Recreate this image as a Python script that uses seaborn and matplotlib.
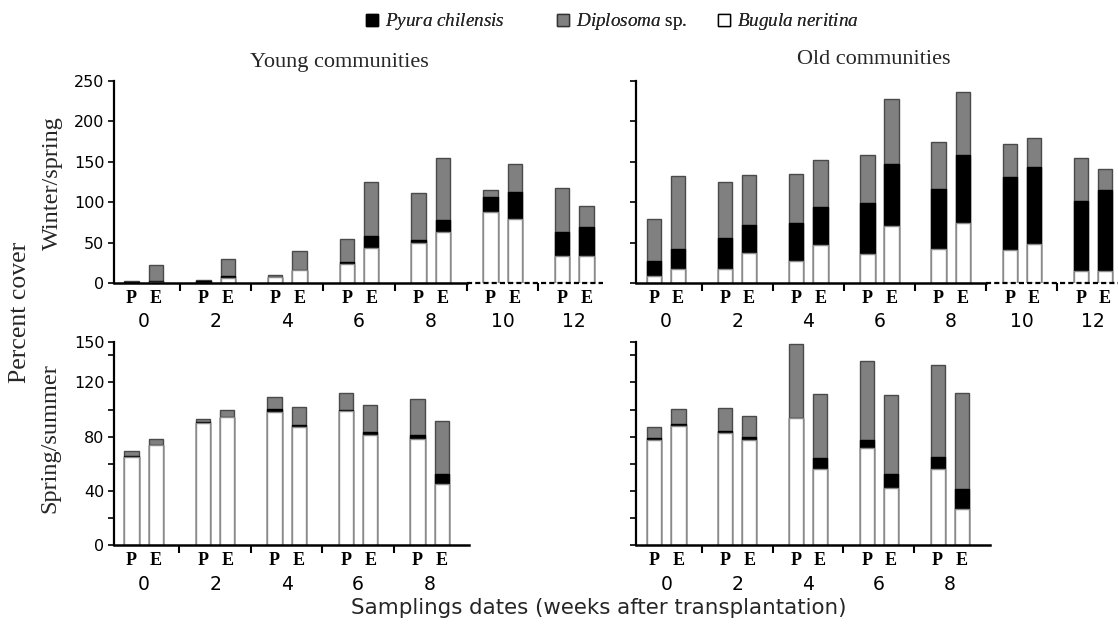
import numpy as np
import pandas as pd
import matplotlib
matplotlib.use("Agg")
import matplotlib.pyplot as plt
import seaborn as sns
from matplotlib.patches import Patch

# ---------------- data ----------------
weeks_winter = [0, 2, 4, 6, 8, 10, 12]
weeks_summer = [0, 2, 4, 6, 8]
treatments = ["P", "E"]

# Young communities - winter/spring
young_winter_P_bugula = [0, 0, 8, 23.5, 50, 87.5, 33]
young_winter_P_pyura = [1, 3, 0, 2, 3.5, 18.5, 29.5]
young_winter_P_diplosoma = [1, 0.5, 2, 29.5, 58.5, 9.5, 55.5]
young_winter_E_bugula = [1, 6, 15.5, 42.8, 63.4, 79.5, 33]
young_winter_E_pyura = [1, 3, 0, 15.7, 14.4, 33, 36.5]
young_winter_E_diplosoma = [20, 21, 23.5, 67, 77, 35, 25.5]

# Old communities - winter/spring
old_winter_P_bugula = [8.2, 17.3, 27.6, 36.2, 42.4, 41, 15]
old_winter_P_pyura = [19.4, 38.7, 46.1, 63.1, 73.6, 90, 87]
old_winter_P_diplosoma = [51.4, 68.4, 61.3, 59.7, 58.6, 41, 53]
old_winter_E_bugula = [17.3, 37, 46.5, 70.4, 74, 48.5, 15]
old_winter_E_pyura = [24.7, 35, 47.8, 76.6, 84.6, 95.5, 100]
old_winter_E_diplosoma = [90.6, 61.4, 58.5, 80.8, 77.4, 35, 26]

# Young communities - spring/summer
young_summer_P_bugula = [65, 90.3, 98.5, 98.7, 78.6]
young_summer_P_pyura = [1, 0.5, 1.7, 1.3, 2.7]
young_summer_P_diplosoma = [3.5, 2.5, 8.8, 12.2, 26.5]
young_summer_E_bugula = [73.9, 94.3, 87.4, 81.3, 44.9]
young_summer_E_pyura = [0, 0, 1, 2.4, 7.9]
young_summer_E_diplosoma = [4.4, 5.7, 13.2, 19.9, 38.8]

# Old communities - spring/summer
old_summer_P_bugula = [77.3, 83, 94, 71.9, 56]
old_summer_P_pyura = [1.5, 1.5, 0, 5.4, 9.3]
old_summer_P_diplosoma = [8.4, 16.9, 54.5, 58.7, 67.5]
old_summer_E_bugula = [87.7, 77.3, 56.2, 42.5, 26.5]
old_summer_E_pyura = [1.4, 2.7, 8.1, 10.3, 15]
old_summer_E_diplosoma = [11.3, 15.3, 47.4, 58.2, 70.5]

# ---------------- style ----------------
sns.set_theme(style="ticks")
plt.rcParams["font.family"] = ["DejaVu Sans"]
plt.rcParams["mathtext.fontset"] = "custom"
plt.rcParams["mathtext.it"] = "Liberation Serif:italic"
plt.rcParams["mathtext.rm"] = "Liberation Serif"
SERIF = "Liberation Serif"
SANS = "DejaVu Sans"

GRAY = "#808080"
BLACK = "#000000"
WHITE = "#ffffff"
OFFSET = {"P": -0.17, "E": 0.17}
BAR_W = 0.2
PAIR_GAP = 0.34

W, H = 1118, 626
fig = plt.figure(figsize=(W / 100, H / 100), dpi=100)
fig.patch.set_facecolor("white")


def px_axes(left, right, top, bottom):
    return fig.add_axes([left / W, 1 - bottom / H, (right - left) / W, (bottom - top) / H])


def draw_panel(ax, weeks, series, ylim, yticks, ylabels, xlim, dash_from=None, show_ylabels=True):
    rows = []
    for gi, wk in enumerate(weeks):
        for t in treatments:
            b = series[t][0][gi]
            p = series[t][1][gi]
            d = series[t][2][gi]
            rows.append({"pos": gi + OFFSET[t], "white": b, "black": b + p, "total": b + p + d})
    df = pd.DataFrame(rows)
    wrel = BAR_W / PAIR_GAP
    sns.barplot(data=df, x="pos", y="total", native_scale=True, color=GRAY, saturation=1,
                width=wrel, edgecolor="#4a4a4a", linewidth=1.0, errorbar=None, ax=ax)
    sns.barplot(data=df, x="pos", y="black", native_scale=True, color=BLACK, saturation=1,
                width=wrel, edgecolor="#000000", linewidth=1.0, errorbar=None, ax=ax)
    sns.barplot(data=df, x="pos", y="white", native_scale=True, color=WHITE, saturation=1,
                width=wrel, edgecolor="#8a8a8a", linewidth=1.0, errorbar=None, ax=ax)

    ax.set_xlim(*xlim)
    ax.set_ylim(*ylim)
    ax.set_xlabel("")
    ax.set_ylabel("")
    for s in ["top", "right"]:
        ax.spines[s].set_visible(False)
    ax.spines["left"].set_linewidth(1.6)
    ax.spines["left"].set_color("black")
    ax.spines["bottom"].set_linewidth(1.8)
    ax.spines["bottom"].set_color("black")
    if dash_from is not None:
        ax.spines["bottom"].set_bounds(xlim[0], dash_from)
        ax.hlines(0, dash_from, xlim[1], colors="black", linestyles=(0, (2.3, 1.4)),
                  linewidth=1.6, clip_on=False)

    ax.set_yticks(yticks)
    ax.set_yticklabels(ylabels if show_ylabels else [""] * len(yticks))
    ax.tick_params(axis="y", direction="out", length=4, width=1.2, colors="black",
                   labelsize=11.5, pad=3)

    pos = [gi + OFFSET[t] for gi in range(len(weeks)) for t in treatments]
    ax.set_xticks(pos)
    ax.set_xticklabels([t for _ in weeks for t in treatments])
    for lab in ax.get_xticklabels():
        lab.set_fontfamily(SERIF)
        lab.set_fontweight("bold")
        lab.set_fontsize(13)
    ax.tick_params(axis="x", which="major", length=0, pad=5, colors="black")
    ax.set_xticks([gi + 0.5 for gi in range(len(weeks) - 1)], minor=True)
    ax.tick_params(axis="x", which="minor", direction="out", length=6, width=1.5, colors="black")
    for gi, wk in enumerate(weeks):
        ax.annotate(str(wk), xy=(gi, 0), xycoords=("data", "axes fraction"), xytext=(0, -28),
                    textcoords="offset points", ha="center", va="center", fontsize=13.5,
                    fontfamily=SANS, color="black", annotation_clip=False)
    ax.set_facecolor("white")


def series(pb, pp, pd_, eb, ep, ed):
    return {"P": (pb, pp, pd_), "E": (eb, ep, ed)}


ax_tl = px_axes(114, 603, 81, 283)
ax_tr = px_axes(636, 1118, 81, 283)
ax_bl = px_axes(114, 469, 341.7, 545.3)
ax_br = px_axes(636, 990, 341.7, 545.3)

top_ticks = [0, 50, 100, 150, 200, 250]
top_labels = ["0", "50", "100", "150", "200", "250"]
bot_ticks = [0, 20, 40, 60, 80, 100, 120, 140, 150]
bot_labels = ["0", "", "40", "", "80", "", "120", "", "150"]

draw_panel(ax_tl, weeks_winter,
           series(young_winter_P_bugula, young_winter_P_pyura, young_winter_P_diplosoma,
                  young_winter_E_bugula, young_winter_E_pyura, young_winter_E_diplosoma),
           (0, 250), top_ticks, top_labels, (-0.415, 6.4), dash_from=4.5)
draw_panel(ax_tr, weeks_winter,
           series(old_winter_P_bugula, old_winter_P_pyura, old_winter_P_diplosoma,
                  old_winter_E_bugula, old_winter_E_pyura, old_winter_E_diplosoma),
           (0, 250), top_ticks, top_labels, (-0.42, 6.35), dash_from=4.5, show_ylabels=False)
draw_panel(ax_bl, weeks_summer,
           series(young_summer_P_bugula, young_summer_P_pyura, young_summer_P_diplosoma,
                  young_summer_E_bugula, young_summer_E_pyura, young_summer_E_diplosoma),
           (0, 150), bot_ticks, bot_labels, (-0.415, 4.55))
draw_panel(ax_br, weeks_summer,
           series(old_summer_P_bugula, old_summer_P_pyura, old_summer_P_diplosoma,
                  old_summer_E_bugula, old_summer_E_pyura, old_summer_E_diplosoma),
           (0, 150), bot_ticks, bot_labels, (-0.43, 4.57), show_ylabels=False)

# titles and labels
fig.text(339 / W, 1 - 62 / H, "Young communities", ha="center", va="center",
         fontfamily=SERIF, fontsize=16)
fig.text(874 / W, 1 - 60 / H, "Old communities", ha="center", va="center",
         fontfamily=SERIF, fontsize=16)
fig.text(20 / W, 1 - 312 / H, "Percent cover", ha="center", va="center", rotation=90,
         fontfamily=SERIF, fontsize=18.5)
fig.text(52 / W, 1 - 183 / H, "Winter/spring", ha="center", va="center", rotation=90,
         fontfamily=SERIF, fontsize=17.5)
fig.text(50 / W, 1 - 438 / H, "Spring/summer", ha="center", va="center", rotation=90,
         fontfamily=SERIF, fontsize=17.5)
fig.text(599 / W, 1 - 608 / H, "Samplings dates (weeks after transplantation)",
         ha="center", va="center", fontfamily=SANS, fontsize=15.4)

# legend (three items placed like the original)
legend_items = [
    (Patch(facecolor=BLACK, edgecolor="black"), r"$\mathit{Pyura\ chilensis}$", 366),
    (Patch(facecolor=GRAY, edgecolor="#333333"), r"$\mathit{Diplosoma}$ sp.", 557),
    (Patch(facecolor=WHITE, edgecolor="black"), r"$\mathit{Bugula\ neritina}$", 718),
]
for handle, label, xpx in legend_items:
    leg = fig.legend([handle], [label], loc="center left", bbox_to_anchor=(xpx / W, 1 - 22 / H),
                     frameon=False, prop={"family": SERIF, "size": 13.8}, handlelength=0.6,
                     handleheight=0.6, handletextpad=0.4, borderpad=0, borderaxespad=0)
    fig.add_artist(leg)

fig.savefig("out.png", dpi=100, facecolor="white")
